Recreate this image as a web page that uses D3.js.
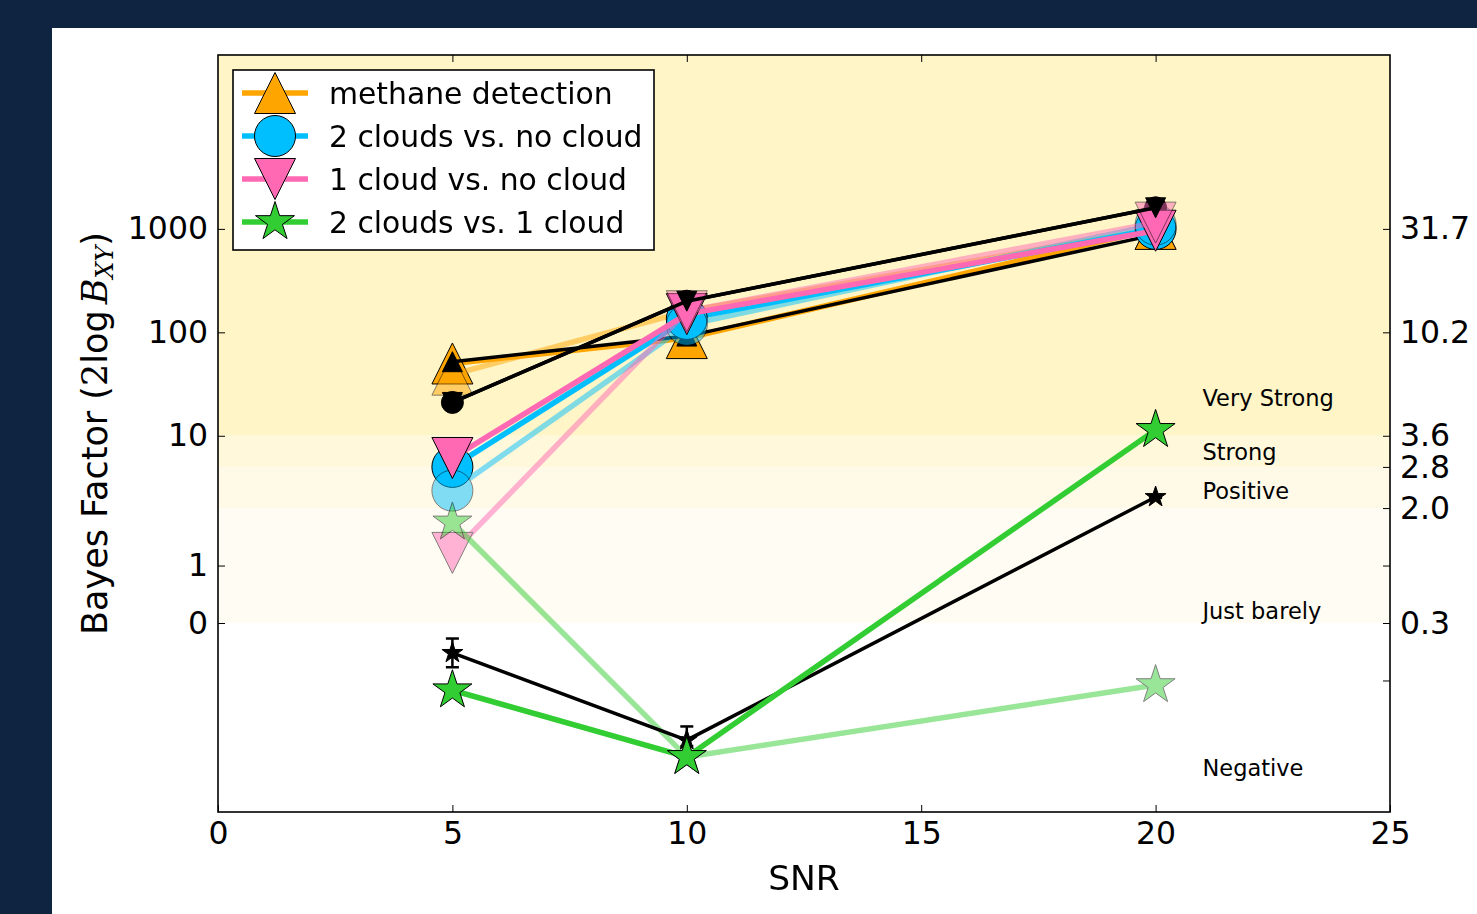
<!DOCTYPE html>
<html><head><meta charset="utf-8">
<script src="https://cdn.jsdelivr.net/npm/d3@7"></script>
<style>html,body{margin:0;padding:0;background:#0f2441;} svg{display:block}</style>
</head><body><svg id="c" width="1477" height="914"></svg>
<script>
// ---------------- data ----------------
const snr = [5, 10, 20];
const xTicks = [0, 5, 10, 15, 20, 25];
const legendLabels = ["methane detection", "2 clouds vs. no cloud", "1 cloud vs. no cloud", "2 clouds vs. 1 cloud"];

const methane        = [50, 88, 1000];
const methaneFaded   = [39, 160, 1000];
const methaneTrue    = [52, 92, 880];
const clouds2v0      = [5.0, 135, 1000];
const clouds2v0Faded = [2.95, 118, 1100];
const clouds2v0True  = [21, 200, 1600];
const cloud1v0       = [6.1, 150, 960];
const cloud1v0Faded  = [1.22, 160, 1150];
const cloud1v0True   = [21, 200, 1600];
const clouds2v1      = [-1.17, -3.05, 11.4];
const clouds2v1Faded = [1.75, -3.05, -1.08];
const clouds2v1True  = [-0.52, -2.1, 2.56];
const clouds2v1TrueErr = [0.25, 0.3, 0.05];

const leftTickVals = [1000, 100, 10, 1, 0];
const leftTickLabels = ["1000", "100", "10", "1", "0"];
const rightTickVals = [1000, 100, 10, 5, 2, 1, 0, -1];
const rightTickLabels = ["31.7", "10.2", "3.6", "2.8", "2.0", "", "0.3", ""];

const bandLo = [10, 5, 2, 0];
const bandHi = [48000, 10, 5, 2];
const bandLabels = ["Very Strong", "Strong", "Positive", "Just barely", "Negative"];
const bandLabelVals = [19.5, 5.8, 2.45, 0.07, -4.7];
const bandLabelX = 21;
const yLimits = [-10.4, 48000];
const xLimits = [0, 25];

// ---------------- layout ----------------
const L = 218, R = 1390, T = 55, B = 812;
const svg = d3.select("#c");
const FONT = "'DejaVu Sans', sans-serif";
svg.append("rect").attr("x", 0).attr("y", 0).attr("width", 1477).attr("height", 914).attr("fill", "#0f2441");
svg.append("rect").attr("x", 52).attr("y", 28).attr("width", 1425).attr("height", 886).attr("fill", "#ffffff");

// matplotlib-style symlog transform (linthresh 2, linscale 1, base 10)
const LT = 2, LS = 1 / (1 - 1 / 10);
function symT(v) {
  const a = Math.abs(v), s = Math.sign(v);
  if (a <= LT) return v * LS;
  return s * LT * (LS + Math.log10(a / LT));
}
const yLin = d3.scaleLinear().domain([symT(yLimits[0]), symT(yLimits[1])]).range([B, T]);
const y = v => yLin(symT(v));
const x = d3.scaleLinear().domain(xLimits).range([L, R]);

// bands
const bandColors = ["#fff5c6", "#fff8da", "#fffae8", "#fffcf3"];
const g0 = svg.append("g");
bandLo.forEach((lo, i) => {
  const y1 = Math.max(y(bandHi[i]), T), y2 = y(lo);
  g0.append("rect").attr("x", L).attr("y", y1).attr("width", R - L).attr("height", y2 - y1).attr("fill", bandColors[i]);
});

// ---------------- markers ----------------
function shapePath(shape, r) {
  if (shape === "up") return `M0,${-r}L${-r},${r}L${r},${r}Z`;
  if (shape === "down") return `M0,${r}L${-r},${-r}L${r},${-r}Z`;
  if (shape === "circle") return `M${r},0A${r},${r} 0 1,1 ${-r},0A${r},${r} 0 1,1 ${r},0Z`;
  if (shape === "star") {
    const pts = [];
    for (let k = 0; k < 10; k++) {
      const rr = k % 2 === 0 ? r : r * 0.381966;
      const a = -Math.PI / 2 + k * Math.PI / 5;
      pts.push([rr * Math.cos(a), rr * Math.sin(a)]);
    }
    return "M" + pts.map(p => p[0].toFixed(2) + "," + p[1].toFixed(2)).join("L") + "Z";
  }
}

const C = { orange: "#ffa500", blue: "#00bfff", pink: "#ff69b4", green: "#32cd32" };
const series = [
  { v: methane,        color: C.orange, op: 1,   shape: "up",     r: 20.5, lw: 5.5 },
  { v: methaneFaded,   color: C.orange, op: 0.5, shape: "up",     r: 20.5, lw: 5.5 },
  { v: methaneTrue,    color: "#000",   op: 1,   shape: "up",     r: 10,   lw: 3.5 },
  { v: clouds2v0,      color: C.blue,   op: 1,   shape: "circle", r: 20.5, lw: 5.5 },
  { v: clouds2v0Faded, color: C.blue,   op: 0.5, shape: "circle", r: 20.5, lw: 5.5 },
  { v: clouds2v0True,  color: "#000",   op: 1,   shape: "circle", r: 11,   lw: 3.5 },
  { v: cloud1v0,       color: C.pink,   op: 1,   shape: "down",   r: 20.5, lw: 5.5 },
  { v: cloud1v0Faded,  color: C.pink,   op: 0.5, shape: "down",   r: 20.5, lw: 5.5 },
  { v: cloud1v0True,   color: "#000",   op: 1,   shape: "down",   r: 10,   lw: 3.5 },
  { v: clouds2v1Faded, color: C.green,  op: 0.5, shape: "star",   r: 20.5, lw: 5.5 },
  { v: clouds2v1True,  color: "#000",   op: 1,   shape: "star",   r: 11,   lw: 3.5, err: clouds2v1TrueErr },
  { v: clouds2v1,      color: C.green,  op: 1,   shape: "star",   r: 20.5, lw: 5.5 },
];

const plotG = svg.append("g");
const line = d3.line().x(d => x(d[0])).y(d => y(d[1]));
series.forEach(s => {
  const g = plotG.append("g").attr("opacity", s.op);
  const pts = snr.map((xx, i) => [xx, s.v[i]]);
  g.append("path").attr("d", line(pts)).attr("fill", "none").attr("stroke", s.color)
    .attr("stroke-width", s.lw).attr("stroke-linejoin", "round");
  if (s.err) {
    pts.forEach((p, i) => {
      const cx = x(p[0]), ya = y(p[1] - s.err[i]), yb = y(p[1] + s.err[i]);
      g.append("line").attr("x1", cx).attr("x2", cx).attr("y1", ya).attr("y2", yb).attr("stroke", "#000").attr("stroke-width", 2.5);
      [ya, yb].forEach(yy => g.append("line").attr("x1", cx - 6.5).attr("x2", cx + 6.5).attr("y1", yy).attr("y2", yy).attr("stroke", "#000").attr("stroke-width", 2.5));
    });
  }
  g.selectAll("path.m").data(pts).join("path").attr("class", "m")
    .attr("transform", d => `translate(${x(d[0])},${y(d[1])})`)
    .attr("d", shapePath(s.shape, s.r))
    .attr("fill", s.color).attr("stroke", "#000").attr("stroke-width", 1);
});

// band labels
bandLabels.forEach((t, i) => {
  svg.append("text").attr("x", x(bandLabelX)).attr("y", y(bandLabelVals[i]))
    .attr("font-family", FONT).attr("font-size", 22.5).attr("fill", "#000").text(t);
});

// ---------------- axes ----------------
function styleAxis(g, fs) {
  g.select(".domain").remove();
  g.selectAll(".tick line").attr("stroke", "#000").attr("stroke-width", 1);
  g.selectAll(".tick text").attr("font-family", FONT).attr("font-size", fs).attr("fill", "#000");
}
svg.append("g").attr("transform", `translate(0,${B})`)
  .call(d3.axisBottom(x).tickValues(xTicks).tickFormat(d3.format("d")).tickSize(-7).tickPadding(10))
  .call(g => styleAxis(g, 31.5));
svg.append("g").attr("transform", `translate(0,${T})`)
  .call(d3.axisTop(x).tickValues(xTicks.slice(1, -1)).tickFormat("").tickSize(-7))
  .call(g => styleAxis(g, 31.5));
svg.append("g").attr("transform", `translate(${L},0)`)
  .call(d3.axisLeft(yLin).tickValues(leftTickVals.map(symT)).tickFormat((d, i) => leftTickLabels[i]).tickSize(-7).tickPadding(10))
  .call(g => styleAxis(g, 31.5));
svg.append("g").attr("transform", `translate(${R},0)`)
  .call(d3.axisRight(yLin).tickValues(rightTickVals.map(symT)).tickFormat((d, i) => rightTickLabels[i]).tickSize(-7).tickPadding(10))
  .call(g => styleAxis(g, 31.5));

svg.append("rect").attr("x", L).attr("y", T).attr("width", R - L).attr("height", B - T)
  .attr("fill", "none").attr("stroke", "#000").attr("stroke-width", 1.6);

// axis titles
svg.append("text").attr("x", (L + R) / 2).attr("y", 890).attr("text-anchor", "middle")
  .attr("font-family", FONT).attr("font-size", 34.5).attr("fill", "#000").text("SNR");
const yl = svg.append("text").attr("transform", `translate(107,${(T + B) / 2}) rotate(-90)`)
  .attr("text-anchor", "middle").attr("font-family", FONT).attr("font-size", 35).attr("fill", "#000");
yl.append("tspan").text("Bayes Factor (");
yl.append("tspan").attr("font-family", "'DejaVu Serif', serif").text("2");
yl.append("tspan").text("log");
yl.append("tspan").attr("font-family", "'DejaVu Serif', serif").attr("font-style", "italic").attr("dx", 6).text("B");
yl.append("tspan").attr("font-family", "'DejaVu Serif', serif").attr("font-style", "italic").attr("font-size", 24).attr("dy", 6).text("XY");
yl.append("tspan").attr("dy", -6).text(")");

// ---------------- legend ----------------
const lg = svg.append("g");
lg.append("rect").attr("x", 233).attr("y", 70).attr("width", 421).attr("height", 180)
  .attr("fill", "#fff").attr("stroke", "#000").attr("stroke-width", 1.6);
const legSeries = [series[0], series[3], series[6], series[11]];
legSeries.forEach((s, i) => {
  const yy = 93 + i * 43;
  lg.append("line").attr("x1", 242).attr("x2", 308).attr("y1", yy).attr("y2", yy).attr("stroke", s.color).attr("stroke-width", 5.5);
  lg.append("path").attr("transform", `translate(275,${yy})`).attr("d", shapePath(s.shape, 20.5))
    .attr("fill", s.color).attr("stroke", "#000").attr("stroke-width", 1);
  lg.append("text").attr("x", 329).attr("y", yy).attr("dy", "0.36em").attr("font-family", FONT)
    .attr("font-size", 29.8).attr("fill", "#000").text(legendLabels[i]);
});
</script></body></html>
